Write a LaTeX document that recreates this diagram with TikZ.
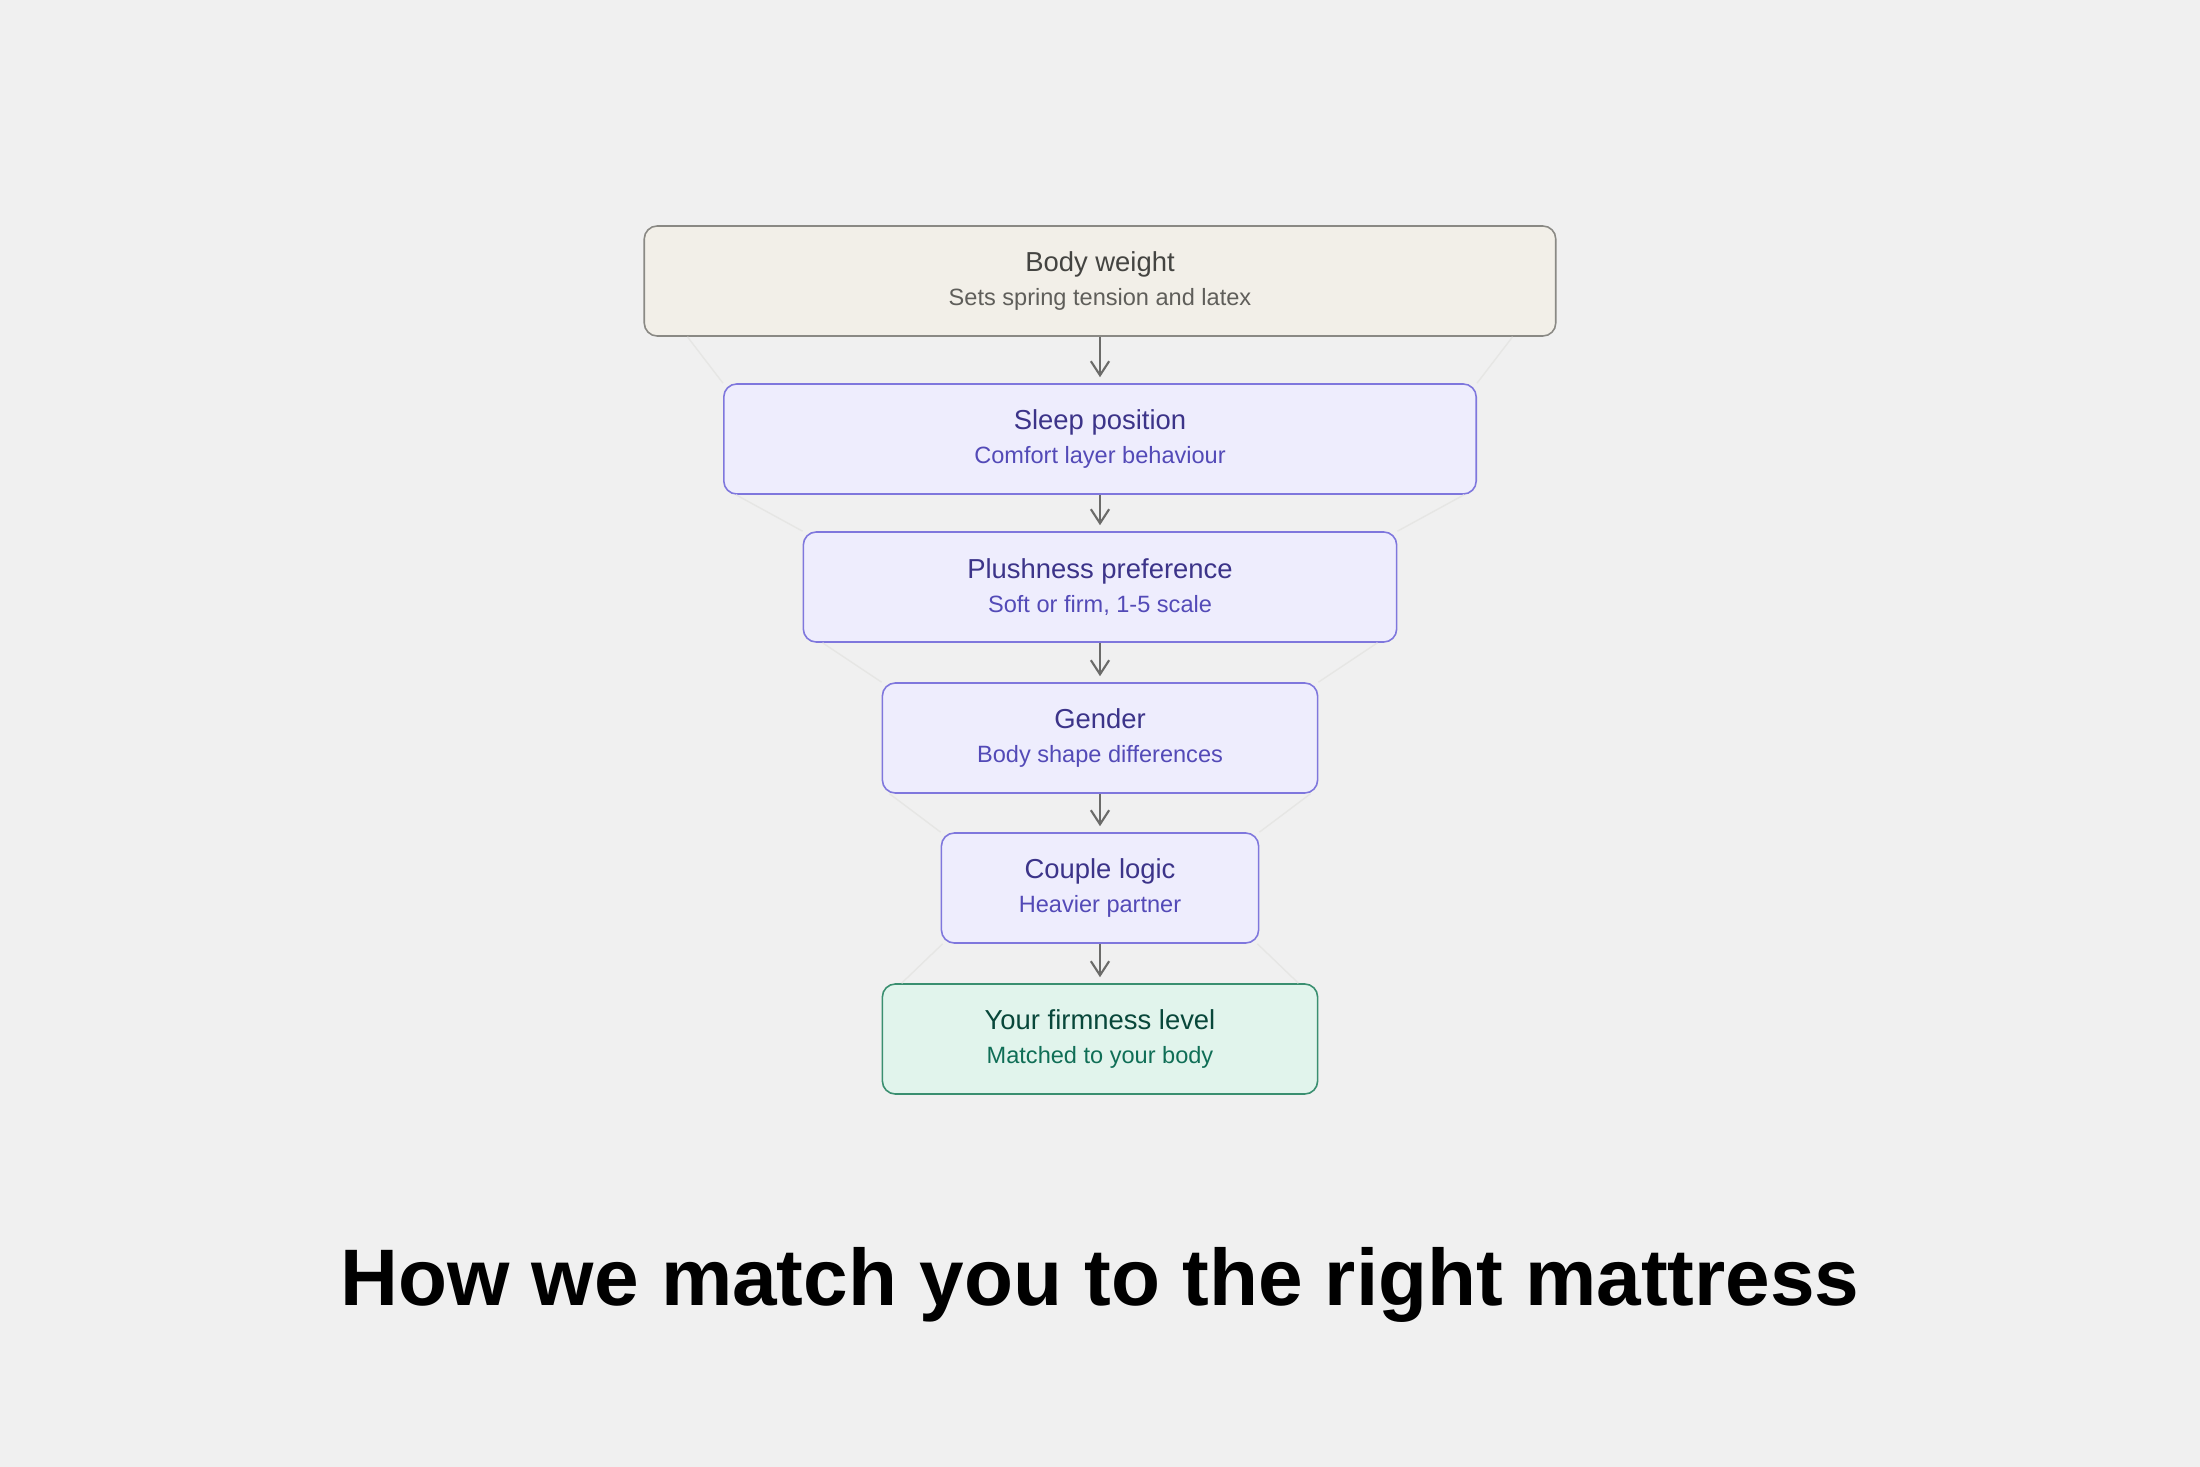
\documentclass[tikz,border=0pt]{standalone}
\usepackage{fontspec}
\setmainfont{Liberation Sans}
\usetikzlibrary{arrows.meta,calc}
\definecolor{bgcol}{HTML}{F0F0F0}
\definecolor{sandfill}{HTML}{F2EFE8}
\definecolor{sandline}{HTML}{8A8984}
\definecolor{sandtitle}{HTML}{444441}
\definecolor{sandsub}{HTML}{5F5E5A}
\definecolor{purplefill}{HTML}{EEEDFD}
\definecolor{purpleline}{HTML}{7F77DD}
\definecolor{purpletitle}{HTML}{3C3489}
\definecolor{purplesub}{HTML}{534AB7}
\definecolor{greenfill}{HTML}{E1F4EC}
\definecolor{greenline}{HTML}{3A8F70}
\definecolor{greentitle}{HTML}{08473A}
\definecolor{greensub}{HTML}{0F6E56}
\definecolor{arrowcol}{HTML}{6B6B69}
\definecolor{funnelcol}{HTML}{E6E6E4}

\begin{document}
\begin{tikzpicture}[x=0.01cm,y=-0.01cm,
  factor/.style={draw=purpleline, fill=purplefill, text=purplesub, rounded corners=3.7pt,
    line width=0.45pt, minimum height=1.1cm, inner sep=0pt, align=center,
    font=\fontsize{6.7}{9.8}\selectfont, execute at begin node={\rule{0pt}{8.6pt}}},
  weightbox/.style={factor, draw=sandline, fill=sandfill, text=sandsub},
  resultbox/.style={factor, draw=greenline, fill=greenfill, text=greensub},
  flow/.style={draw=arrowcol, line width=0.6pt, -{Straight Barb[length=4pt,width=5.2pt]}, shorten >=1.7pt},
  funnel/.style={draw=funnelcol, line width=0.4pt}]
\fill [bgcol] (0,0) rectangle (2200,1467);
\useasboundingbox (0,0) rectangle (2200,1467);

\node [weightbox, minimum width=9.11cm] (w) at (1100,281) {\textcolor{sandtitle}{\fontsize{7.8}{9.8}\selectfont Body weight}\\ Sets spring tension and latex};
\node [factor, minimum width=7.52cm] (s) at (1100,439) {\textcolor{purpletitle}{\fontsize{7.8}{9.8}\selectfont Sleep position}\\ Comfort layer behaviour};
\node [factor, minimum width=5.93cm] (p) at (1100,587) {\textcolor{purpletitle}{\fontsize{7.8}{9.8}\selectfont Plushness preference}\\ Soft or firm, 1-5 scale};
\node [factor, minimum width=4.35cm] (g) at (1100,738) {\textcolor{purpletitle}{\fontsize{7.8}{9.8}\selectfont Gender}\\ Body shape differences};
\node [factor, minimum width=3.17cm] (c) at (1100,888) {\textcolor{purpletitle}{\fontsize{7.8}{9.8}\selectfont Couple logic}\\ Heavier partner};
\node [resultbox, minimum width=4.35cm] (y) at (1100,1039) {\textcolor{greentitle}{\fontsize{7.8}{9.8}\selectfont Your firmness level}\\ Matched to your body};

\foreach \a/\b/\s/\e in {w/s/44/0, s/p/13/0, p/g/20/0, g/c/8/0, c/y/2/20} {
  \draw [funnel] ($(\a.south west)+(\s,0)$) -- ($(\b.north west)+(\e,0)$);
  \draw [funnel] ($(\a.south east)-(\s,0)$) -- ($(\b.north east)-(\e,0)$);
}
\foreach \a/\b in {w/s, s/p, p/g, g/c, c/y}
  \draw [flow] (\a) -- (\b);

\node [anchor=base, font=\fontsize{22.8}{27}\selectfont\bfseries] (title) at (1100,1305) {How we match you to the right mattress};
\end{tikzpicture}
\end{document}
